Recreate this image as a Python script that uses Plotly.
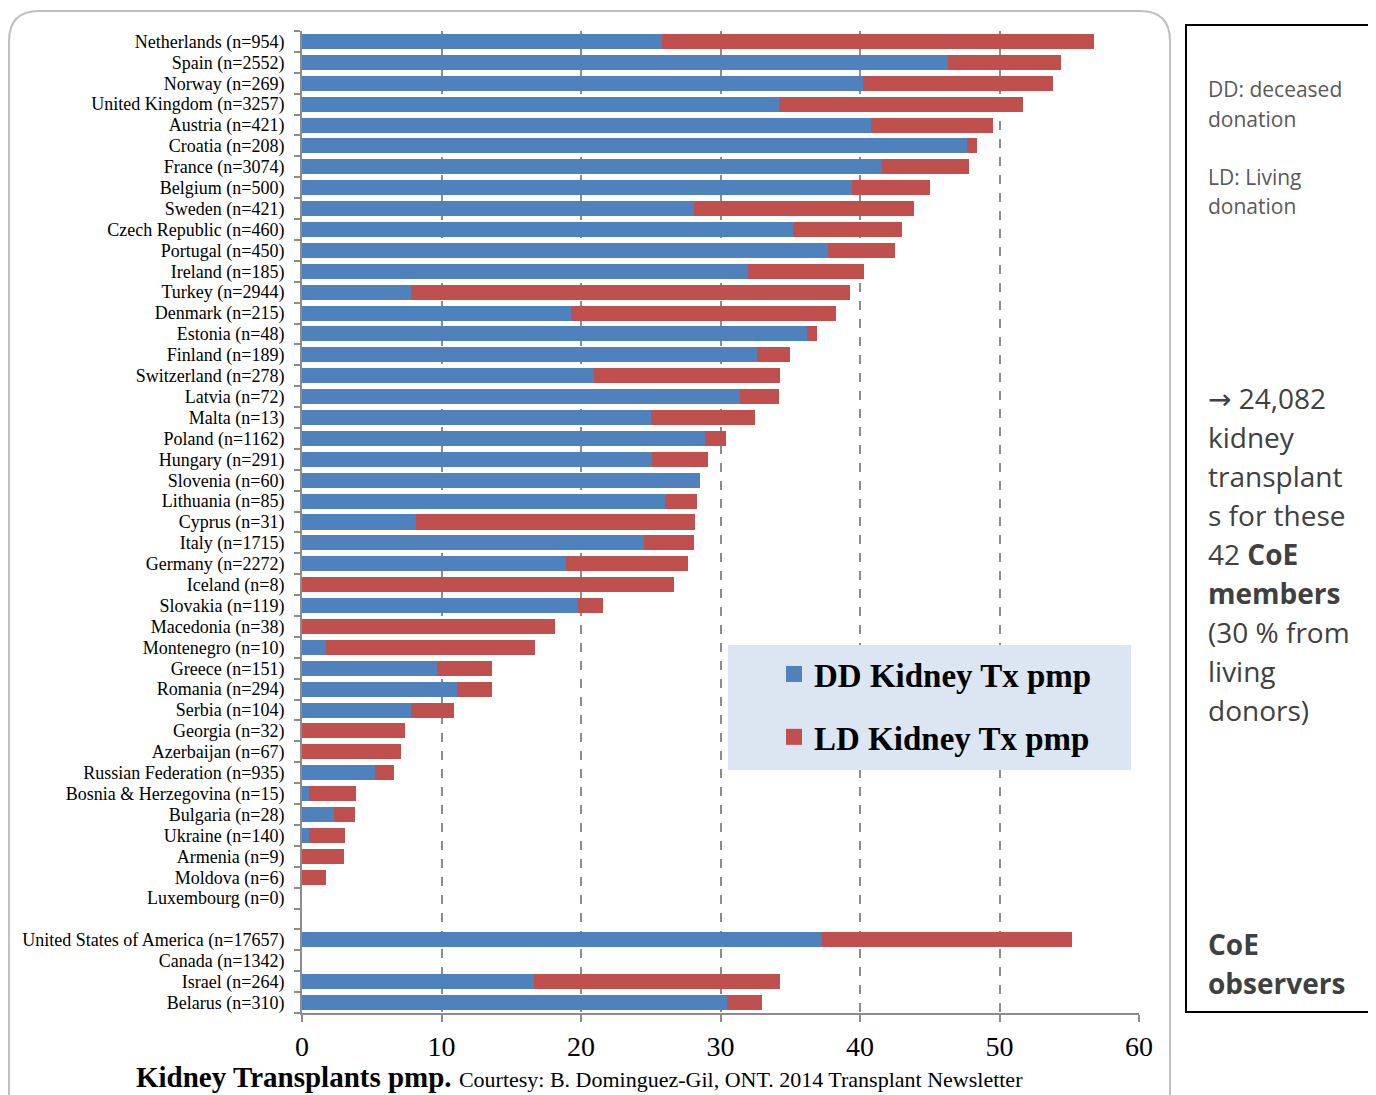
import plotly.graph_objects as go

categories = [
    "Netherlands (n=954)", "Spain (n=2552)", "Norway (n=269)", "United Kingdom (n=3257)",
    "Austria (n=421)", "Croatia (n=208)", "France (n=3074)", "Belgium (n=500)",
    "Sweden (n=421)", "Czech Republic (n=460)", "Portugal (n=450)", "Ireland (n=185)",
    "Turkey (n=2944)", "Denmark (n=215)", "Estonia (n=48)", "Finland (n=189)",
    "Switzerland (n=278)", "Latvia (n=72)", "Malta (n=13)", "Poland (n=1162)",
    "Hungary (n=291)", "Slovenia (n=60)", "Lithuania (n=85)", "Cyprus (n=31)",
    "Italy (n=1715)", "Germany (n=2272)", "Iceland (n=8)", "Slovakia (n=119)",
    "Macedonia (n=38)", "Montenegro (n=10)", "Greece (n=151)", "Romania (n=294)",
    "Serbia (n=104)", "Georgia (n=32)", "Azerbaijan (n=67)", "Russian Federation (n=935)",
    "Bosnia & Herzegovina (n=15)", "Bulgaria (n=28)", "Ukraine (n=140)", "Armenia (n=9)",
    "Moldova (n=6)", "Luxembourg (n=0)", "",
    "United States of America (n=17657)", "Canada (n=1342)", "Israel (n=264)", "Belarus (n=310)",
]

dd_pmp = [
    25.8, 46.3, 40.2, 34.2, 40.8, 47.7, 41.6, 39.4, 28.1, 35.2, 37.7, 32.0,
    7.8, 19.3, 36.2, 32.6, 20.9, 31.4, 25.0, 28.9, 25.1, 28.5, 26.0, 8.2,
    24.5, 18.9, 0.0, 19.8, 0.0, 1.7, 9.7, 11.1, 7.8, 0.0, 0.0, 5.2,
    0.5, 2.3, 0.5, 0.0, 0.0, 0.0, None,
    37.3, None, 16.6, 30.5,
]

ld_pmp = [
    31.0, 8.1, 13.6, 17.5, 8.7, 0.7, 6.2, 5.6, 15.8, 7.8, 4.8, 8.3,
    31.5, 19.0, 0.7, 2.4, 13.4, 2.8, 7.5, 1.5, 4.0, 0.0, 2.3, 20.0,
    3.6, 8.8, 26.7, 1.8, 18.1, 15.0, 3.9, 2.5, 3.1, 7.4, 7.1, 1.4,
    3.4, 1.5, 2.6, 3.0, 1.7, 0.0, None,
    17.9, None, 17.7, 2.5,
]

series_names = ["DD Kidney Tx pmp", "LD Kidney Tx pmp"]
series_colors = ["#4F81BD", "#C0504D"]
x_ticks = [0, 10, 20, 30, 40, 50, 60]

# page offset (body margin) so that positions below are given in screenshot pixels
OX, OY = 8, 8
W, H = 1376 - OX, 1095 - OY
L, R, T, B = 302 - OX, 1139 - OX, 31 - OY, 1013 - OY


def px(x):
    return (x - OX - L) / (R - L)


def py(y):
    return (B - (y - OY)) / (B - T)


rows = list(range(len(categories)))
serif = "Liberation Serif"
sans = "Open Sans"

fig = go.Figure()
for vals, name, color in zip([dd_pmp, ld_pmp], series_names, series_colors):
    fig.add_trace(go.Bar(
        y=rows, x=vals, orientation="h", name=name,
        marker=dict(color=color, line=dict(width=0)), width=0.72,
        legendgroup=name, showlegend=False,
    ))
for name, color in zip(series_names, series_colors):
    fig.add_trace(go.Scatter(
        x=[None], y=[None], mode="markers", name=name, legendgroup=name,
        marker=dict(symbol="square", size=16, color=color),
    ))

fig.update_layout(
    width=W, height=H,
    margin=dict(l=L, r=W - R, t=T, b=H - B, pad=0),
    barmode="stack",
    plot_bgcolor="white", paper_bgcolor="white",
    font=dict(family=serif, color="black"),
    showlegend=True,
    legend=dict(
        x=px(774), y=py(646), xanchor="left", yanchor="top",
        bgcolor="rgba(0,0,0,0)", borderwidth=0,
        font=dict(family=serif, size=33, color="black", weight="bold"),
        traceorder="grouped", tracegroupgap=17, itemwidth=30,
    ),
    bargap=0,
)

fig.update_xaxes(
    range=[0, 60], tickvals=x_ticks, ticktext=[str(v) for v in x_ticks],
    showgrid=True, gridcolor="#8C8C8C", griddash="dash", gridwidth=1.5,
    zeroline=False, showline=True, linecolor="#8C8C8C", linewidth=2,
    ticks="outside", ticklen=7, tickcolor="#8C8C8C", tickwidth=2,
    tickfont=dict(family=serif, size=28, color="black"),
    ticklabelstandoff=0,
)
fig.update_yaxes(
    range=[len(categories) - 0.5, -0.5],
    tickmode="array", tickvals=rows, ticktext=categories,
    ticks="", showgrid=False, zeroline=False,
    showline=True, linecolor="#8C8C8C", linewidth=2,
    tickfont=dict(family=serif, size=18, color="black"),
    ticklabelstandoff=12,
    minor=dict(tickmode="array", tickvals=[i - 0.5 for i in range(len(categories) + 1)],
               ticks="outside", ticklen=6, tickcolor="#8C8C8C", tickwidth=2),
)

shapes = []
# legend background
shapes.append(dict(type="rect", xref="paper", yref="paper",
                   x0=px(728), x1=px(1131), y0=py(770), y1=py(645),
                   fillcolor="#DCE6F2", line=dict(width=0), layer="above"))
# outer rounded frame
r = 30
x0, x1, y0, y1 = 9, 1170, 11, 1125
path = (f"M {px(x0+r)},{py(y0)} L {px(x1-r)},{py(y0)} "
        f"Q {px(x1)},{py(y0)} {px(x1)},{py(y0+r)} L {px(x1)},{py(y1-r)} "
        f"Q {px(x1)},{py(y1)} {px(x1-r)},{py(y1)} L {px(x0+r)},{py(y1)} "
        f"Q {px(x0)},{py(y1)} {px(x0)},{py(y1-r)} L {px(x0)},{py(y0+r)} "
        f"Q {px(x0)},{py(y0)} {px(x0+r)},{py(y0)} Z")
shapes.append(dict(type="path", xref="paper", yref="paper", path=path,
                   line=dict(color="#BFBFBF", width=2), layer="below"))
# right box
shapes.append(dict(type="rect", xref="paper", yref="paper",
                   x0=px(1186), x1=px(1369), y0=py(1012), y1=py(25),
                   line=dict(color="black", width=2), fillcolor="rgba(0,0,0,0)"))
fig.update_layout(shapes=shapes)

ann = []
small = [("DD: deceased", 89), ("donation", 119), ("LD: Living", 177), ("donation", 206)]
for txt, yy in small:
    ann.append(dict(text=txt, x=px(1206), y=py(yy), xref="paper", yref="paper",
                    xanchor="left", yanchor="middle", showarrow=False,
                    font=dict(family=sans, size=21, color="#595959")))
big = [("<span style='font-family:DejaVu Sans'>→</span> 24,082", 398), ("kidney", 437),
       ("transplant", 476), ("s for these", 515),
       ("42 <b>CoE</b>", 554), ("<b>members</b>", 593), ("(30 % from", 632),
       ("living", 671), ("donors)", 710), ("<b>CoE</b>", 944), ("<b>observers</b>", 983)]
for txt, yy in big:
    ann.append(dict(text=txt, x=px(1206), y=py(yy), xref="paper", yref="paper",
                    xanchor="left", yanchor="middle", showarrow=False,
                    font=dict(family=sans, size=28, color="#404040")))
ann.append(dict(
    text="<b>Kidney Transplants pmp.</b> <span style='font-size:22px'>Courtesy: B. Dominguez-Gil, ONT. 2014 Transplant Newsletter</span>",
    x=px(134), y=py(1077), xref="paper", yref="paper", xanchor="left", yanchor="middle",
    showarrow=False, font=dict(family=serif, size=29, color="black")))
fig.update_layout(annotations=ann)

fig.write_html("out.html")
